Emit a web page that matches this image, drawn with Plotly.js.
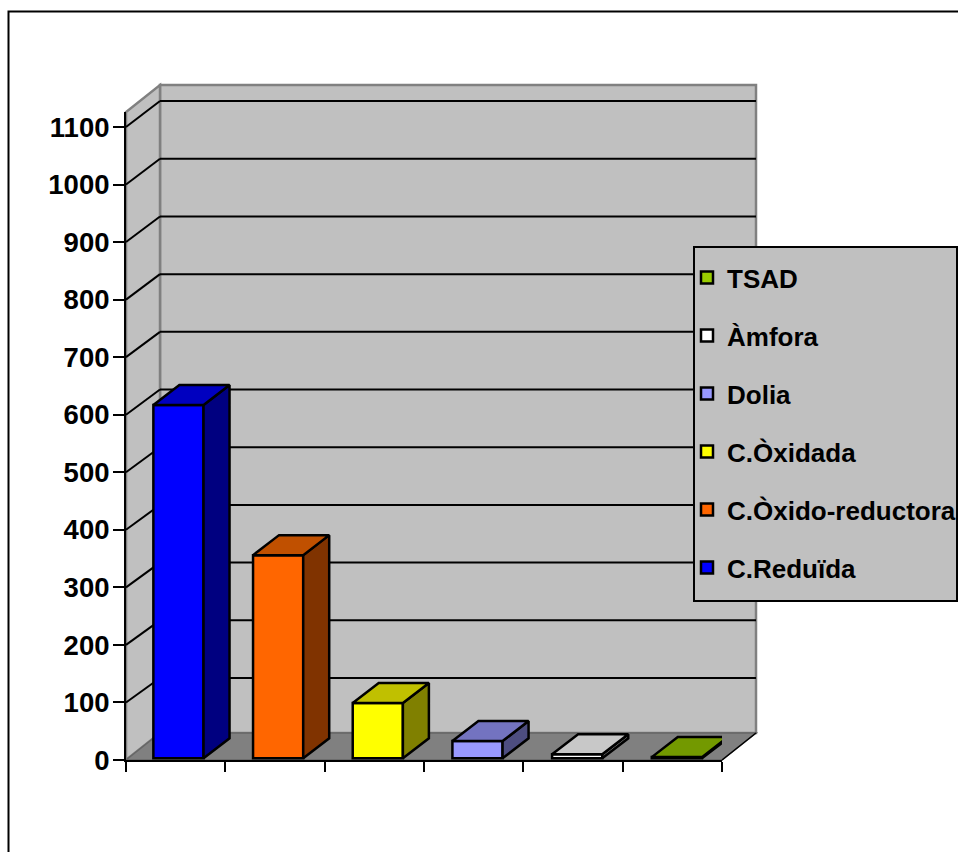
<!DOCTYPE html>
<html>
<head>
<meta charset="utf-8">
<script src="https://cdn.plot.ly/plotly-3.0.1.min.js"></script>
<style>html,body{margin:0;padding:0;background:#fff;overflow:hidden}</style>
</head>
<body>
<div id="chart" style="width:958px;height:852px"></div>
<script>
const categories = ['C.Reduïda', 'C.Òxido-reductora', 'C.Òxidada', 'Dolia', 'Àmfora', 'TSAD'];
const values = [614, 353, 96, 30, 7, 2];
const frontColors = ['#0000ff', '#ff6600', '#ffff00', '#9999ff', '#ffffff', '#99cc00'];
const topColors = ['#0000c0', '#c05000', '#c0c000', '#7373c0', '#c8c8c8', '#739900'];
const sideColors = ['#000080', '#803300', '#808000', '#4d4d80', '#808080', '#4d6600'];
const yTicks = [0, 100, 200, 300, 400, 500, 600, 700, 800, 900, 1000, 1100];

// geometry of the pseudo-3D box, in axis units
const xMax = 6, yMax = 1126;
const wallDx = 34 / 99.33, wallDy = 27 / 0.5755;
const barDx = 26 / 99.33, barDy = 20 / 0.5755;
const barCenter = 0.528, barPitch = 1.0035, barWidth = 0.505, barBase = 3;
const gridLift = 42.2, gridScale = 1.0026;
const xf = d => d / xMax, yf = d => d / yMax;
const W = 596, H = 648, L = 126, T = 112;
const pxX = p => (p - L) / W, pxY = p => (T + H - p) / H;
const path = pts => 'M' + pts.map(p => xf(p[0]).toFixed(5) + ',' + yf(p[1]).toFixed(5)).join('L') + 'Z';
const poly = (pts, fill, color, width, layer) => ({
  type: 'path', xref: 'paper', yref: 'paper', path: path(pts),
  fillcolor: fill, line: {color, width}, layer: layer || 'below'
});
const seg = (x0, y0, x1, y1, color, width) => ({
  type: 'line', xref: 'paper', yref: 'paper', layer: 'below',
  x0: xf(x0), y0: yf(y0), x1: xf(x1), y1: yf(y1), line: {color, width}
});

const traces = [];
categories.forEach((name, i) => {
  const c = i * barPitch + barCenter;
  const x0 = c - barWidth / 2, x1 = c + barWidth / 2;
  const b = barBase, t = barBase + values[i];
  traces.push({
    type: 'bar', name, x: [c], y: [values[i]], base: [b], width: [barWidth],
    legendgroup: name, legendrank: 100 - i, marker: {color: frontColors[i], line: {color: '#000', width: 2.5}},
    hoverinfo: 'name+y'
  });
  traces.push({
    type: 'scatter', mode: 'lines', showlegend: false, legendgroup: name, cliponaxis: false, hoverinfo: 'skip',
    x: [x1, x1 + barDx, x1 + barDx, x1, x1], y: [b, b + barDy, t + barDy, t, b],
    fill: 'toself', fillcolor: sideColors[i], line: {color: '#000', width: 2.5}
  });
  traces.push({
    type: 'scatter', mode: 'lines', showlegend: false, legendgroup: name, cliponaxis: false, hoverinfo: 'skip',
    x: [x0, x1, x1 + barDx, x0 + barDx, x0], y: [t, t, t + barDy, t + barDy, t],
    fill: 'toself', fillcolor: topColors[i], line: {color: '#000', width: 2.5}
  });
});

const shapes = [
  // outer chart frame
  {type: 'path', xref: 'paper', yref: 'paper', layer: 'below', fillcolor: 'rgba(0,0,0,0)',
   path: `M${pxX(8.5)},${pxY(860)}L${pxX(8.5)},${pxY(11.5)}L${pxX(965)},${pxY(11.5)}`,
   line: {color: '#000', width: 2}},
  // back wall, left wall, floor
  poly([[wallDx, wallDy], [wallDx + xMax, wallDy], [wallDx + xMax, yMax + wallDy], [wallDx, yMax + wallDy]], '#c0c0c0', '#808080', 2.5),
  poly([[0, 0], [wallDx, wallDy], [wallDx, yMax + wallDy], [0, yMax]], '#c0c0c0', '#808080', 2.5),
  poly([[0, 0], [xMax, 0], [xMax + wallDx, wallDy], [wallDx, wallDy]], '#808080', '#666666', 1.5),
  seg(xMax, 0, xMax + wallDx, wallDy, '#000', 1.5)
];
yTicks.filter(v => v > 0).forEach(v => {
  const gy = v * gridScale + gridLift;
  shapes.push(seg(0, v, wallDx, gy, '#000', 2));
  shapes.push(seg(wallDx, gy, xMax + wallDx, gy, '#000', 2));
});
// legend panel
shapes.push({type: 'rect', xref: 'paper', yref: 'paper', layer: 'above',
  x0: pxX(694), x1: pxX(957), y0: pxY(601), y1: pxY(247),
  fillcolor: '#c0c0c0', line: {color: '#000', width: 2}});

const layout = {
  width: 958, height: 852, showlegend: true,
  paper_bgcolor: '#fff', plot_bgcolor: 'rgba(0,0,0,0)',
  margin: {l: L, r: 958 - L - W, t: T, b: 852 - T - H, pad: 0, autoexpand: false},
  font: {family: '"Liberation Sans", Arial, sans-serif', color: '#000'},
  bargap: 0,
  xaxis: {range: [0, xMax], fixedrange: true, tickmode: 'array', tickvals: [0, 1, 2, 3, 4, 5, 6], ticktext: ['', '', '', '', '', '', ''],
    ticks: 'outside', ticklen: 10, tickwidth: 2, tickcolor: '#000', showgrid: false, zeroline: false,
    showline: true, linecolor: '#000', linewidth: 2},
  yaxis: {range: [0, yMax], fixedrange: true, tickmode: 'array', tickvals: yTicks,
    ticks: 'outside', ticklen: 11, tickwidth: 2, tickcolor: '#000', showgrid: false, zeroline: false,
    showline: true, linecolor: '#000', linewidth: 2, ticklabelstandoff: -2,
    tickfont: {size: 27.5, weight: 700, color: '#000'}},
  legend: {
    x: pxX(687), xanchor: 'left', y: pxY(254), yanchor: 'top',
    bgcolor: 'rgba(0,0,0,0)', borderwidth: 0,
    traceorder: 'grouped', tracegroupgap: 21.2,
    font: {size: 26, weight: 700, color: '#000'}
  },
  shapes
};
Plotly.newPlot('chart', traces, layout, {displayModeBar: false, staticPlot: true});
</script>
</body>
</html>
